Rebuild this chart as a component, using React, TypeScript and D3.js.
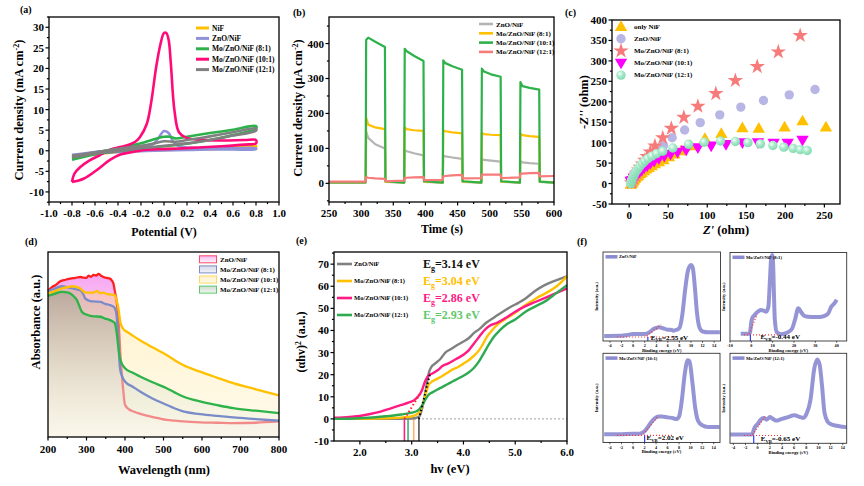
import React from 'react';
import * as d3 from 'd3';

const FONT = '"Liberation Serif", "Times New Roman", serif';

// ---------------- (a) cyclic voltammetry ----------------
const cvNames = ['NiF', 'ZnO/NiF', 'Mo/ZnO/NiF (8:1)', 'Mo/ZnO/NiF (10:1)', 'Mo/ZnO/NiF (12:1)'];
const cvColors = ['#FFC000', '#9091D8', '#2DB24B', '#FF0A78', '#808080'];
const cvNiF = [[-0.8,-1.3],[-0.6,-0.7],[-0.4,-0.2],[-0.2,0.1],[0,0.4],[0.2,0.5],[0.4,0.7],[0.6,0.9],[0.8,1.2],[0.8,0.9],[0.6,0.6],[0.4,0.4],[0.2,0.3],[0,0.2],[-0.2,0],[-0.4,-0.3],[-0.6,-0.8],[-0.8,-1.3]];
const cvZnO = [[-0.8,-1.0],[-0.6,-0.3],[-0.4,0.2],[-0.2,0.7],[-0.1,1.5],[-0.05,3],[0,4.8],[0.04,4.3],[0.08,2.2],[0.12,1.2],[0.2,0.8],[0.4,0.6],[0.6,0.6],[0.8,0.6],[0.8,0.4],[0.6,0.3],[0.4,0.3],[0.2,0.2],[0,0.1],[-0.2,-0.1],[-0.4,-0.3],[-0.6,-0.7],[-0.8,-1.5]];
const cvMo8 = [[-0.8,-1.8],[-0.6,-0.5],[-0.4,0.6],[-0.2,1.8],[-0.1,2.7],[0,3.4],[0.05,3.4],[0.1,3.0],[0.2,3.4],[0.4,4.3],[0.6,5.1],[0.8,6.0],[0.8,5.4],[0.6,3.8],[0.4,2.6],[0.2,1.7],[0,1.1],[-0.2,0.5],[-0.4,-0.1],[-0.6,-0.9],[-0.8,-2.2]];
const cvMo10 = [[-0.8,-7.6],[-0.78,-5.6],[-0.73,-4.0],[-0.65,-2.4],[-0.56,-1.1],[-0.47,0.2],[-0.38,0.9],[-0.3,1.5],[-0.25,2.2],[-0.21,3.3],[-0.15,6.5],[-0.11,12],[-0.07,20],[-0.03,26],[0,28.6],[0.02,28.6],[0.04,27],[0.06,21],[0.09,10],[0.13,4.5],[0.19,3.2],[0.3,2.7],[0.5,2.5],[0.7,2.6],[0.8,2.6],[0.8,1.8],[0.7,1.5],[0.5,1.1],[0.3,0.8],[0.1,0.5],[0,0.4],[-0.2,0.1],[-0.27,-0.3],[-0.38,-0.9],[-0.47,-2.2],[-0.59,-4.8],[-0.7,-6.8],[-0.8,-7.6]];
const cvMo12 = [[-0.8,-1.2],[-0.6,-0.4],[-0.4,0.5],[-0.2,1.2],[-0.1,1.7],[0,2.3],[0.1,2.2],[0.2,2.6],[0.4,3.5],[0.6,4.5],[0.8,5.4],[0.8,4.9],[0.6,3.7],[0.4,2.6],[0.2,1.8],[0,1.2],[-0.2,0.6],[-0.4,-0.1],[-0.6,-0.7],[-0.8,-1.6]];
const cvSeries = [cvNiF, cvZnO, cvMo8, cvMo10, cvMo12];
const aXTicks = [-1.0,-0.8,-0.6,-0.4,-0.2,0,0.2,0.4,0.6,0.8,1.0];
const aYTicks = [-10,-5,0,5,10,15,20,25,30];

// ---------------- (b) chopped light i-t ----------------
const itNames = ['ZnO/NiF', 'Mo/ZnO/NiF (8:1)', 'Mo/ZnO/NiF (10:1)', 'Mo/ZnO/NiF (12:1)'];
const itColors = ['#B4B4B4', '#FFC000', '#2DB24B', '#F77B7B'];
const lightOn = [307, 367, 427, 487, 547];
const lightOff = [337, 397, 457, 517, 577];
// per pulse: [spike, +4 s, middle, end]
const pulseZnO = [[148,130,112,100],[95,92,86,80],[80,77,74,70],[70,67,65,62],[64,60,58,56]];
const pulseMo8 = [[188,168,160,155],[160,155,152,150],[152,149,146,143],[145,141,139,138],[142,138,135,133]];
const pulseMo10 = [[410,417,405,390],[385,378,365,350],[352,344,335,325],[328,320,312,305],[290,278,273,268]];
const pulseMo12 = [[18,16,14,13],[16,16,17,18],[20,21,23,24],[25,25,25,25],[28,28,29,30]];
// per dark interval: [start, end]
const darkZnO = [[2,2],[4,2],[4,2],[4,2],[4,2],[4,2]];
const darkMo8 = [[3,3],[5,3],[5,3],[5,3],[5,3],[5,3]];
const darkMo10 = [[3,3],[6,2],[6,2],[6,2],[6,2],[5,2]];
const darkMo12 = [[5,5],[6,8],[9,10],[14,15],[15,17],[20,21]];
const itPulses = [pulseZnO, pulseMo8, pulseMo10, pulseMo12];
const itDark = [darkZnO, darkMo8, darkMo10, darkMo12];
const bXTicks = [250,300,350,400,450,500,550,600];
const bYTicks = [0,100,200,300,400];

// ---------------- (c) Nyquist ----------------
const eisNames = ['only  NiF', 'ZnO/NiF', 'Mo/ZnO/NiF (8:1)', 'Mo/ZnO/NiF (10:1)', 'Mo/ZnO/NiF (12:1)'];
const eisNiF = [[2,-2],[3,0],[4,3],[5,6],[6,9],[7,12],[8,14],[10,17],[12,20],[14,24],[16,27],[19,31],[22,35],[25,39],[29,43],[33,48],[38,53],[44,58],[51,65],[58,72],[67,80],[79,92],[97,110],[118,122],[145,136],[166,135],[199,138],[222,153],[252,138]];
const eisZnO = [[3,2],[4,6],[5,10],[6,14],[8,19],[10,24],[12,29],[14,34],[17,40],[20,47],[24,54],[28,62],[33,71],[38,80],[44,93],[55,112],[71,131],[91,149],[116,168],[143,187],[172,203],[205,217],[238,230]];
const eisMo8 = [[3,2],[4,6],[6,12],[8,19],[10,26],[12,33],[14,40],[17,48],[20,57],[23,66],[27,77],[33,92],[43,112],[54,135],[70,162],[88,189],[111,220],[136,252],[164,286],[191,322],[219,362]];
const eisMo10 = [[2,6],[3,3],[4,8],[6,13],[8,18],[10,23],[13,28],[16,33],[19,38],[23,43],[27,49],[32,55],[38,61],[45,67],[53,72],[62,77],[73,82],[88,88],[105,92],[124,96],[145,100],[165,100],[185,99],[203,99],[222,106]];
const eisMo12 = [[2,0],[2.5,4],[3,8],[4,12],[5,16],[6,20],[7,24],[8,28],[10,33],[12,38],[14,43],[17,49],[20,55],[24,61],[29,67],[35,73],[43,79],[56,87],[76,96],[96,101],[117,104],[136,103],[152,100],[168,97],[184,93],[198,89],[210,86],[219,83],[228,81]];
const eisSeries = [eisNiF, eisZnO, eisMo8, eisMo10, eisMo12];
const cXTicks = [0,50,100,150,200,250];
const cYTicks = [-50,0,50,100,150,200,250,300,350,400];

// ---------------- (d) UV-vis absorbance ----------------
const absNames = ['ZnO/NiF', 'Mo/ZnO/NiF (8:1)', 'Mo/ZnO/NiF (10:1)', 'Mo/ZnO/NiF (12:1)'];
const absZnO = [[200,0.79],[210,0.81],[219,0.82],[232,0.842],[245,0.85],[258,0.856],[271,0.86],[284,0.865],[292,0.862],[300,0.86],[305,0.872],[312,0.866],[318,0.876],[325,0.873],[331,0.882],[338,0.872],[344,0.865],[352,0.86],[361,0.856],[366,0.845],[370,0.83],[374,0.785],[378,0.74],[383,0.64],[388,0.45],[392,0.336],[396,0.24],[400,0.174],[410,0.15],[422,0.138],[440,0.125],[465,0.111],[490,0.1],[508,0.093],[530,0.088],[551,0.084],[595,0.079],[640,0.077],[681,0.075],[740,0.077],[800,0.084]];
const absMo8 = [[200,0.789],[215,0.8],[236,0.815],[250,0.81],[258,0.806],[270,0.8],[284,0.793],[292,0.77],[297,0.748],[310,0.735],[325,0.732],[336,0.73],[348,0.72],[361,0.713],[370,0.705],[374,0.695],[378,0.66],[380,0.605],[383,0.5],[387,0.372],[392,0.33],[400,0.3],[420,0.272],[439,0.246],[470,0.21],[508,0.174],[530,0.154],[551,0.138],[595,0.124],[640,0.114],[681,0.106],[740,0.097],[800,0.088]];
const absMo10 = [[200,0.776],[215,0.786],[232,0.8],[250,0.81],[266,0.815],[275,0.81],[284,0.803],[292,0.787],[300,0.78],[310,0.78],[320,0.782],[328,0.79],[334,0.778],[344,0.78],[355,0.772],[366,0.77],[374,0.766],[378,0.74],[383,0.695],[388,0.62],[392,0.596],[400,0.575],[405,0.569],[420,0.548],[439,0.523],[470,0.486],[508,0.443],[530,0.414],[551,0.389],[595,0.353],[640,0.32],[681,0.291],[740,0.258],[800,0.225]];
const absMo12 = [[200,0.763],[215,0.772],[236,0.785],[250,0.782],[258,0.776],[268,0.758],[275,0.74],[282,0.705],[288,0.677],[298,0.663],[310,0.655],[322,0.652],[336,0.65],[348,0.64],[361,0.632],[370,0.622],[374,0.614],[378,0.569],[382,0.5],[387,0.426],[392,0.395],[400,0.372],[420,0.347],[439,0.327],[470,0.297],[508,0.264],[530,0.24],[551,0.219],[595,0.192],[640,0.172],[681,0.156],[740,0.142],[800,0.129]];
const absSeries = [absZnO, absMo8, absMo10, absMo12];
const dXTicks = [200,300,400,500,600,700,800];

// ---------------- (e) Tauc plot ----------------
const taucNames = ['ZnO/NiF', 'Mo/ZnO/NiF (8:1)', 'Mo/ZnO/NiF (10:1)', 'Mo/ZnO/NiF (12:1)'];
const taucColors = ['#808080', '#FFC000', '#FF1A84', '#2EAA50'];
const taucEgText = ['3.14', '3.04', '2.86', '2.93'];
const taucEgColors = ['#111111', '#FFC000', '#FF1A84', '#5DC86A'];
const taucDropColors = ['#505050', '#FFB07A', '#FF1A84', '#3CB371'];
const taucEg = [3.14, 3.04, 2.86, 2.93];
const tZnO = [[1.5,0],[2.5,0],[3.0,0.2],[3.1,0.6],[3.15,1.2],[3.2,4.5],[3.25,10],[3.3,17],[3.34,21.5],[3.38,23.5],[3.45,25],[3.55,27],[3.65,30],[3.75,31.5],[3.85,33],[4.0,35],[4.1,36.5],[4.2,38.8],[4.3,40.5],[4.44,43.5],[4.6,46],[4.76,48.5],[4.9,50.5],[5.06,52.5],[5.2,54.5],[5.39,58],[5.55,60.3],[5.71,62],[5.85,63.2],[6.0,64.5]];
const tMo8 = [[1.5,0],[2.5,0.3],[2.9,0.8],[3.05,1.5],[3.15,3],[3.22,7],[3.28,12],[3.33,15.5],[3.4,17],[3.5,18.2],[3.6,19.5],[3.7,21],[3.8,22.5],[3.9,23.5],[4.0,25],[4.1,26.5],[4.2,28.5],[4.3,31],[4.38,34],[4.45,37],[4.55,40],[4.65,42.5],[4.8,45],[5.0,48],[5.2,51.5],[5.4,54.5],[5.6,57],[5.8,60],[6.0,64.5]];
const tMo10 = [[1.5,0.5],[1.8,0.9],[2.0,1.3],[2.2,2.2],[2.4,3.3],[2.6,4.8],[2.8,6.3],[2.95,7.5],[3.05,8.5],[3.12,10],[3.2,13],[3.26,17],[3.32,19.5],[3.4,20.5],[3.5,22],[3.6,24],[3.7,25],[3.85,27],[4.0,29],[4.1,31],[4.2,34],[4.3,37],[4.4,40],[4.5,42],[4.65,43.5],[4.8,45.5],[5.0,48.5],[5.2,51],[5.4,53],[5.6,55],[5.8,57],[6.0,59]];
const tMo12 = [[1.5,0],[2.0,0.3],[2.5,1.2],[2.8,2],[3.0,2.8],[3.12,3.8],[3.2,6],[3.27,9],[3.33,11],[3.4,12],[3.5,13.3],[3.6,14.5],[3.7,15.8],[3.8,17],[3.9,18.3],[4.0,19.5],[4.1,21],[4.2,23],[4.3,26],[4.4,30],[4.5,34],[4.6,37.5],[4.7,40],[4.85,43],[5.0,45],[5.2,48.5],[5.4,51],[5.6,53.5],[5.8,57],[6.0,60.5]];
const taucSeries = [tZnO, tMo8, tMo10, tMo12];
const tangentBlack = [[3.14,0],[3.36,21]];
const tangentRed = [[2.86,0],[3.18,12]];
const eXTicks = [2,3,4,5,6];
const eYTicks = [-10,0,10,20,30,40,50,60,70];

// ---------------- (f) VB-XPS ----------------
const vbNames = ['ZnO/NiF', 'Mo/ZnO/NiF (8:1)', 'Mo/ZnO/NiF (10:1)', 'Mo/ZnO/NiF (12:1)'];
const vbValues = ['2.55', '-0.44', '2.02', '-0.65'];
const vbEdge = [2.55, -0.44, 2.02, -0.65];
const vbZnO = [[-5,0.058],[-2,0.06],[-1,0.07],[0,0.08],[1,0.08],[2,0.08],[2.5,0.09],[3,0.11],[3.5,0.14],[4,0.15],[4.5,0.16],[5,0.15],[5.5,0.14],[6,0.13],[6.5,0.13],[7,0.12],[7.5,0.13],[8,0.15],[8.5,0.3],[9,0.6],[9.5,0.82],[10,0.88],[10.3,0.85],[10.7,0.6],[11,0.35],[11.5,0.15],[12,0.11],[13,0.1],[15,0.1]];
const vbMo8 = [[-5,0.083],[-1,0.083],[-0.6,0.1],[-0.3,0.16],[0,0.22],[0.5,0.27],[1.5,0.3],[2.5,0.33],[3.5,0.35],[4.5,0.36],[6,0.35],[7,0.34],[8,0.4],[8.7,0.7],[9.3,0.96],[9.8,1.0],[10.2,0.9],[10.6,0.55],[11,0.25],[12,0.1],[14,0.08],[17,0.1],[19,0.14],[20.5,0.25],[22,0.38],[23.5,0.33],[25,0.29],[28,0.28],[32,0.28],[34,0.29],[36,0.32],[37.5,0.4],[39,0.44],[40,0.48]];
const vbMo10 = [[-5,0.094],[-2,0.096],[0,0.1],[1,0.1],[1.5,0.11],[2,0.13],[2.5,0.17],[3,0.22],[3.5,0.26],[4,0.29],[4.5,0.3],[5,0.3],[6,0.29],[7,0.28],[7.5,0.27],[8,0.3],[8.5,0.5],[9,0.8],[9.5,0.95],[9.8,0.94],[10.3,0.7],[10.8,0.4],[11.3,0.25],[12,0.2],[13,0.18],[15,0.18]];
const vbMo12 = [[-4.5,0.1],[-1,0.1],[-0.8,0.12],[-0.5,0.18],[0,0.22],[0.5,0.27],[1,0.29],[1.5,0.27],[2,0.3],[2.5,0.28],[3,0.26],[4,0.28],[5,0.3],[6,0.32],[7,0.3],[7.5,0.29],[8,0.33],[8.7,0.5],[9.3,0.85],[9.8,0.96],[10.2,0.9],[10.6,0.65],[11,0.35],[11.5,0.25],[12,0.22],[13,0.2],[14,0.19],[15,0.18]];
const vbSeries = [vbZnO, vbMo8, vbMo10, vbMo12];
const vbTicksSmall = [-4,-2,0,2,4,6,8,10,12,14];
const vbTicksWide = [-10,0,10,20,30,40];

// ================= helpers =================
type P = number[];
const fmt1 = (v: number) => (v < 0 ? '-' : '') + Math.abs(v).toFixed(1);
const fmt0 = (v: number) => (v < 0 ? '-' : '') + Math.abs(v).toFixed(0);

function XAx({ sc, y, major, minor = [], fmt, fs = 11, len = 3.5, dy = 15, sw = 1.2 }: any) {
  return (
    <g>
      {minor.map((t: number, i: number) => <line key={'n' + i} x1={sc(t)} x2={sc(t)} y1={y} y2={y + len * 0.6} stroke="#000" strokeWidth={sw} />)}
      {major.map((t: number, i: number) => <line key={'j' + i} x1={sc(t)} x2={sc(t)} y1={y} y2={y + len} stroke="#000" strokeWidth={sw} />)}
      {fmt && major.map((t: number, i: number) => (
        <text key={'l' + i} x={sc(t)} y={y + dy} textAnchor="middle" fontSize={fs} fontWeight="bold" fontFamily={FONT}>{fmt(t)}</text>
      ))}
    </g>
  );
}

function YAx({ sc, x, major, minor = [], fmt, fs = 11, len = 3.5, dx = 1.5, sw = 1.2 }: any) {
  return (
    <g>
      {minor.map((t: number, i: number) => <line key={'n' + i} x1={x} x2={x - len * 0.6} y1={sc(t)} y2={sc(t)} stroke="#000" strokeWidth={sw} />)}
      {major.map((t: number, i: number) => <line key={'j' + i} x1={x} x2={x - len} y1={sc(t)} y2={sc(t)} stroke="#000" strokeWidth={sw} />)}
      {fmt && major.map((t: number, i: number) => (
        <text key={'l' + i} x={x - len - dx} y={sc(t)} dy="0.36em" textAnchor="end" fontSize={fs} fontWeight="bold" fontFamily={FONT}>{fmt(t)}</text>
      ))}
    </g>
  );
}

function Frame({ x0, x1, y0, y1, sw = 1.3, stroke = '#000' }: any) {
  return <rect x={x0} y={y0} width={x1 - x0} height={y1 - y0} fill="none" stroke={stroke} strokeWidth={sw} />;
}

function T({ x, y, s, fs = 11, anchor = 'start', rot = 0, fill = '#000', children }: any) {
  return (
    <text x={x} y={y} fontSize={fs} fontWeight="bold" fontFamily={FONT} textAnchor={anchor} fill={fill}
      transform={rot ? `rotate(${rot},${x},${y})` : undefined}>{children ?? s}</text>
  );
}

function range(a: number, b: number, s: number) {
  const out: number[] = [];
  for (let v = a; v <= b + 1e-9; v += s) out.push(+v.toFixed(6));
  return out;
}

// ================= panel (a) =================
function PanelA() {
  const x = d3.scaleLinear().domain([-1, 1]).range([49, 279]);
  const y = d3.scaleLinear().domain([-12.45, 32.5]).range([202, 17]);
  const line = d3.line<P>().x(d => x(d[0])).y(d => y(d[1])).curve(d3.curveCatmullRom.alpha(0.5));
  return (
    <g>
      {cvSeries.map((s, i) => (
        <path key={i} d={line(s as any) || ''} fill="none" stroke={cvColors[i]} strokeWidth={2.6} strokeLinejoin="round" />
      ))}
      <Frame x0={49} x1={279} y0={17} y1={202} />
      <XAx sc={x} y={202} major={aXTicks} minor={range(-0.9, 0.9, 0.2)} fmt={fmt1} dy={15} />
      <YAx sc={y} x={49} major={aYTicks} minor={range(-12.5, 32.5, 5)} fmt={fmt0} />
      {cvNames.map((n, i) => (
        <g key={i}>
          <line x1={196} x2={209} y1={28 + i * 10.4} y2={28 + i * 10.4} stroke={cvColors[i]} strokeWidth={3} />
          <T x={212} y={30.6 + i * 10.4} fs={7.5}>{n}</T>
        </g>
      ))}
      <T x={20} y={13} fs={10}>(a)</T>
      <text x={23} y={110} transform="rotate(-90,23,110)" textAnchor="middle" fontSize={12.5} fontWeight="bold" fontFamily={FONT}>
        Current density (mA cm<tspan dy={-4} fontSize={8}>-2</tspan><tspan dy={4}>)</tspan>
      </text>
      <T x={164} y={236} fs={12} anchor="middle">Potential (V)</T>
    </g>
  );
}

// ================= panel (b) =================
function buildChop(pulses: number[][], dark: number[][]) {
  const pts: number[][] = [[250, dark[0][0]]];
  for (let i = 0; i < lightOn.length; i++) {
    const on = lightOn[i], off = lightOff[i], p = pulses[i];
    pts.push([on, dark[i][1]]);
    pts.push([on + 0.8, p[0]]);
    pts.push([on + 4, p[1]]);
    pts.push([(on + off) / 2, p[2]]);
    pts.push([off, p[3]]);
    pts.push([off + 0.8, dark[i + 1][0]]);
  }
  pts.push([600, dark[lightOn.length][1]]);
  return pts;
}

function PanelB() {
  const x = d3.scaleLinear().domain([250, 600]).range([329, 554]);
  const y = d3.scaleLinear().domain([-53.4, 476]).range([202, 17]);
  const line = d3.line<P>().x(d => x(d[0])).y(d => y(d[1]));
  return (
    <g>
      <clipPath id="clipB"><rect x={329} y={17} width={225} height={185} /></clipPath>
      <g clipPath="url(#clipB)">
        {itPulses.map((p, i) => (
          <path key={i} d={line(buildChop(p, itDark[i]) as any) || ''} fill="none" stroke={itColors[i]} strokeWidth={2.2} strokeLinejoin="round" />
        ))}
      </g>
      <Frame x0={329} x1={554} y0={17} y1={202} />
      <XAx sc={x} y={202} major={bXTicks} minor={range(275, 575, 50)} fmt={fmt0} dy={15} />
      <YAx sc={y} x={329} major={bYTicks} minor={range(-50, 450, 100)} fmt={fmt0} />
      {itNames.map((n, i) => (
        <g key={i}>
          <line x1={479} x2={493} y1={24 + i * 9.3} y2={24 + i * 9.3} stroke={itColors[i]} strokeWidth={2.6} />
          <T x={496} y={26.5 + i * 9.3} fs={7}>{n}</T>
        </g>
      ))}
      <T x={293} y={16} fs={10}>(b)</T>
      <text x={302} y={108} transform="rotate(-90,302,108)" textAnchor="middle" fontSize={12.5} fontWeight="bold" fontFamily={FONT}>
        Current density (μA cm<tspan dy={-4} fontSize={8}>-2</tspan><tspan dy={4}>)</tspan>
      </text>
      <T x={442} y={233} fs={12} anchor="middle">Time (s)</T>
    </g>
  );
}

// ================= panel (c) =================
const symTri = d3.symbol(d3.symbolTriangle, 66)() || '';
const symStar = d3.symbol(d3.symbolStar, 74)() || '';

function Marker({ i, cx, cy }: any) {
  if (i === 0) return <path d={symTri} transform={`translate(${cx},${cy + 0.8})`} fill="#FFC000" />;
  if (i === 1) return <circle cx={cx} cy={cy} r={4.7} fill="#B8B6E4" />;
  if (i === 2) return <path d={symStar} transform={`translate(${cx},${cy})`} fill="#F77B7B" />;
  if (i === 3) return <path d={symTri} transform={`translate(${cx},${cy - 0.8}) rotate(180)`} fill="#FF00FF" />;
  return <circle cx={cx} cy={cy} r={4.7} fill="url(#mintGrad)" />;
}

function PanelC() {
  const x = d3.scaleLinear().domain([-22, 270]).range([612, 840]);
  const y = d3.scaleLinear().domain([-50, 400]).range([204, 20]);
  return (
    <g>
      <defs>
        <radialGradient id="mintGrad" cx="0.38" cy="0.35" r="0.7">
          <stop offset="0" stopColor="#F4FFF9" />
          <stop offset="0.45" stopColor="#A7EACA" />
          <stop offset="1" stopColor="#7FD6AE" />
        </radialGradient>
      </defs>
      <clipPath id="clipC"><rect x={612} y={20} width={228} height={184} /></clipPath>
      <g clipPath="url(#clipC)">
        {eisSeries.map((s, i) => (
          <g key={i}>{s.map((d, j) => <Marker key={j} i={i} cx={x(d[0])} cy={y(d[1])} />)}</g>
        ))}
      </g>
      <Frame x0={612} x1={840} y0={20} y1={204} />
      <XAx sc={x} y={204} major={cXTicks} minor={range(-25, 275, 50).filter(v => v > -22 && v < 270)} fmt={fmt0} dy={15} />
      <YAx sc={y} x={612} major={cYTicks} minor={range(-25, 375, 50)} fmt={fmt0} />
      {eisNames.map((n, i) => (
        <g key={i}>
          <Marker i={i} cx={621} cy={26.7 + i * 12.1} />
          <T x={634} y={29 + i * 12.1} fs={7}>{n}</T>
        </g>
      ))}
      <T x={565} y={16} fs={10}>(c)</T>
      <text x={588} y={102} transform="rotate(-90,588,102)" textAnchor="middle" fontSize={12.5} fontWeight="bold" fontFamily={FONT}>
        -<tspan fontStyle="italic">Z''</tspan> (ohm)
      </text>
      <text x={726} y={234} textAnchor="middle" fontSize={12.5} fontWeight="bold" fontFamily={FONT}>
        <tspan fontStyle="italic">Z'</tspan> (ohm)
      </text>
    </g>
  );
}

// ================= panel (d) =================
const absLine = ['url(#znoStroke)', '#7A8CC8', '#FFC000', '#2DB34A'];
const absBox = ['#FF4A6A', '#7A8CC8', '#FFD860', '#5CC870'];
const absFillTop = ['#F27AEA', '#6A78A8', '#FFD24D', '#4E7A52'];
const absFillTopOp = [0.7, 0.32, 0.32, 0.32];
const absFillBot = ['#FFE8F4', '#E8ECF6', '#FFF3CC', '#EAF3E4'];
const absFillBotOp = [0.08, 0.12, 0.35, 0.15];

function PanelD() {
  const x = d3.scaleLinear().domain([200, 800]).range([48, 279]);
  const y = d3.scaleLinear().domain([0, 1]).range([437, 252]);
  const line = d3.line<P>().x(d => x(d[0])).y(d => y(d[1])).curve(d3.curveMonotoneX);
  const area = d3.area<P>().x(d => x(d[0])).y0(437).y1(d => y(d[1])).curve(d3.curveMonotoneX);
  return (
    <g>
      <defs>
        {absSeries.map((_, i) => (
          <linearGradient key={i} id={'absG' + i} gradientUnits="userSpaceOnUse" x1={0} y1={270} x2={0} y2={437}>
            <stop offset="0" stopColor={absFillTop[i]} stopOpacity={absFillTopOp[i]} />
            <stop offset="1" stopColor={absFillBot[i]} stopOpacity={absFillBotOp[i]} />
          </linearGradient>
        ))}
        {absSeries.map((_, i) => (
          <linearGradient key={'b' + i} id={'absB' + i} x1={0} y1={0} x2={0} y2={1}>
            <stop offset="0" stopColor={absFillTop[i]} stopOpacity={i === 0 ? 0.6 : 0.25} />
            <stop offset="1" stopColor={absFillBot[i]} stopOpacity={0.4} />
          </linearGradient>
        ))}
        <linearGradient id="znoStroke" gradientUnits="userSpaceOnUse" x1={x(370)} y1={0} x2={x(392)} y2={0}>
          <stop offset="0" stopColor="#FF1E1E" />
          <stop offset="1" stopColor="#F28A8A" />
        </linearGradient>
      </defs>
      {absSeries.map((s, i) => <path key={'a' + i} d={area(s as any) || ''} fill={`url(#absG${i})`} />)}
      {absSeries.map((s, i) => <path key={'l' + i} d={line(s as any) || ''} fill="none" stroke={absLine[i]} strokeWidth={2.3} />)}
      <Frame x0={48} x1={279} y0={252} y1={437} />
      <XAx sc={x} y={437} major={dXTicks} minor={range(250, 750, 100)} fmt={fmt0} dy={16} />
      {absNames.map((n, i) => (
        <g key={i}>
          <rect x={199.5} y={255.8 + i * 10.1} width={17} height={7} fill={`url(#absB${i})`} stroke={absBox[i]} strokeWidth={1} />
          <T x={220} y={261.8 + i * 10.1} fs={7}>{n}</T>
        </g>
      ))}
      <T x={25} y={245} fs={10}>(d)</T>
      <T x={40} y={322} fs={12.5} anchor="middle" rot={-90}>Absorbance (a.u.)</T>
      <T x={164} y={474} fs={12.5} anchor="middle">Wavelength (nm)</T>
    </g>
  );
}

// ================= panel (e) =================
function PanelE() {
  const x = d3.scaleLinear().domain([1.5, 6]).range([334, 567]);
  const y = d3.scaleLinear().domain([-10, 75.5]).range([441, 252]);
  const line = d3.line<P>().x(d => x(d[0])).y(d => y(d[1])).curve(d3.curveMonotoneX);
  return (
    <g>
      <line x1={x(1.5)} x2={x(6)} y1={y(0)} y2={y(0)} stroke="#A0A0A0" strokeWidth={1} strokeDasharray="2,2" />
      {taucEg.map((e, i) => (
        <line key={i} x1={x(e)} x2={x(e)} y1={y(0)} y2={441} stroke={taucDropColors[i]} strokeWidth={1.6} />
      ))}
      {taucSeries.map((s, i) => (
        <path key={i} d={line(s as any) || ''} fill="none" stroke={taucColors[i]} strokeWidth={2.4} />
      ))}
      <path d={d3.line()(tangentRed.map(d => [x(d[0]), y(d[1])]) as any) || ''} stroke="#FF2020" strokeWidth={2} strokeDasharray="1.5,2.5" fill="none" />
      <path d={d3.line()(tangentBlack.map(d => [x(d[0]), y(d[1])]) as any) || ''} stroke="#000" strokeWidth={2} strokeDasharray="1.5,2.5" fill="none" />
      <Frame x0={334} x1={567} y0={252} y1={441} />
      <XAx sc={x} y={441} major={eXTicks} minor={range(2.5, 5.5, 1)} fmt={fmt1} dy={15} />
      <YAx sc={y} x={334} major={eYTicks} minor={range(-5, 75, 10)} fmt={fmt0} />
      {taucNames.map((n, i) => (
        <g key={i}>
          <line x1={337} x2={352} y1={264 + i * 17} y2={264 + i * 17} stroke={taucColors[i]} strokeWidth={2.6} />
          <T x={354} y={266.3 + i * 17} fs={6.5}>{n}</T>
          <text x={423} y={268 + i * 17} fontSize={12} fontWeight="bold" fontFamily={FONT} fill={taucEgColors[i]}>
            E<tspan dy={3} fontSize={8}>g</tspan><tspan dy={-3}>={taucEgText[i]} eV</tspan>
          </text>
        </g>
      ))}
      <T x={296} y={244} fs={10}>(e)</T>
      <text x={305} y={342} transform="rotate(-90,305,342)" textAnchor="middle" fontSize={12} fontWeight="bold" fontFamily={FONT}>
        (αhv)<tspan dy={-4} fontSize={7.5}>2</tspan><tspan dy={4}> (a.u.)</tspan>
      </text>
      <T x={450} y={473} fs={12.5} anchor="middle">hv (eV)</T>
    </g>
  );
}

// ================= panel (f) =================
function VBSub({ idx, x0, x1, y0, y1, dom, ticks, lblDx, lblY }: any) {
  const x = d3.scaleLinear().domain(dom).range([x0, x1]);
  const y = d3.scaleLinear().domain([0, 1.03]).range([y1, y0]);
  const line = d3.line<P>().x(d => x(d[0])).y(d => y(d[1])).curve(d3.curveMonotoneX);
  const data = vbSeries[idx];
  const edge = vbEdge[idx];
  const base = data[0][1];
  const peakIdx = data.findIndex(d => d[0] > edge);
  const after = data[Math.min(peakIdx + 2, data.length - 1)];
  const span = (dom[1] - dom[0]);
  const tanA = [edge - span * 0.01, base];
  const tanB = [after[0] + span * 0.04, after[1] + 0.04];
  const lbl = vbValues[idx];
  return (
    <g>
      <clipPath id={'vbc' + idx}><rect x={x0} y={y0} width={x1 - x0} height={y1 - y0} /></clipPath>
      <g clipPath={`url(#vbc${idx})`}>
        <path d={line(data as any) || ''} fill="none" stroke="#8A8AD2" strokeOpacity={0.9} strokeWidth={4} strokeLinejoin="round" />
        <line x1={x(dom[0] + span * 0.12)} x2={x(edge + span * 0.25)} y1={y(base) + 1} y2={y(base) + 1} stroke="#FF3030" strokeWidth={1.1} strokeDasharray="1,2" />
        <line x1={x(tanA[0])} x2={x(tanB[0])} y1={y(tanA[1])} y2={y(tanB[1])} stroke="#FF3030" strokeWidth={1.3} strokeDasharray="1,2" />
        <line x1={x(edge)} x2={x(edge)} y1={y(base) + 1} y2={y1} stroke="#2A3CFF" strokeWidth={1.2} />
      </g>
      <Frame x0={x0} x1={x1} y0={y0} y1={y1} sw={0.9} stroke="#333" />
      <XAx sc={x} y={y1} major={ticks} fmt={fmt0} fs={4.2} len={1.8} dy={6} sw={0.6} />
      <text x={(x0 + x1) / 2} y={y1 + 10.5} textAnchor="middle" fontSize={4.6} fontWeight="bold" fontFamily={FONT}>Binding energy (eV)</text>
      <text x={x0 - 5} y={(y0 + y1) / 2} transform={`rotate(-90,${x0 - 5},${(y0 + y1) / 2})`} textAnchor="middle" fontSize={4.6} fontWeight="bold" fontFamily={FONT}>Intensity (a.u.)</text>
      <line x1={x0 + 2.5} x2={x0 + 14.5} y1={y0 + 4.8} y2={y0 + 4.8} stroke="#8A8AD2" strokeWidth={3.5} />
      <text x={x0 + 16} y={y0 + 6.4} fontSize={4.6} fontWeight="bold" fontFamily={FONT}>{vbNames[idx]}</text>
      <text x={x(edge) + lblDx} y={lblY} fontSize={7} fontWeight="bold" fontFamily={FONT}>
        E<tspan dy={1.5} fontSize={4.6}>VB</tspan><tspan dy={-1.5}>={lbl} eV</tspan>
      </text>
    </g>
  );
}

function PanelF() {
  return (
    <g>
      <VBSub idx={0} x0={603} x1={720.5} y0={252} y1={341} dom={[-5.2, 15.1]} ticks={vbTicksSmall} lblDx={3} lblY={339.5} />
      <VBSub idx={1} x0={730} x1={846.7} y0={252.5} y1={341} dom={[-10, 44.7]} ticks={vbTicksWide} lblDx={10} lblY={339} />
      <VBSub idx={2} x0={603} x1={720} y0={353.3} y1={442.5} dom={[-5.2, 15.1]} ticks={vbTicksSmall} lblDx={2} lblY={440.3} />
      <VBSub idx={3} x0={730} x1={846.7} y0={353.3} y1={443.3} dom={[-4.55, 14.65]} ticks={vbTicksSmall} lblDx={7} lblY={441} />
      <T x={577} y={245} fs={10}>(f)</T>
    </g>
  );
}

export default function App() {
  return (
    <div style={{ position: 'absolute', left: 0, top: 0, width: 864, height: 486, background: '#fff' }}>
      <svg width={864} height={486} viewBox="0 0 864 486" style={{ display: 'block' }}>
        <rect width={864} height={486} fill="#fff" />
        <PanelA />
        <PanelB />
        <PanelC />
        <PanelD />
        <PanelE />
        <PanelF />
      </svg>
    </div>
  );
}
